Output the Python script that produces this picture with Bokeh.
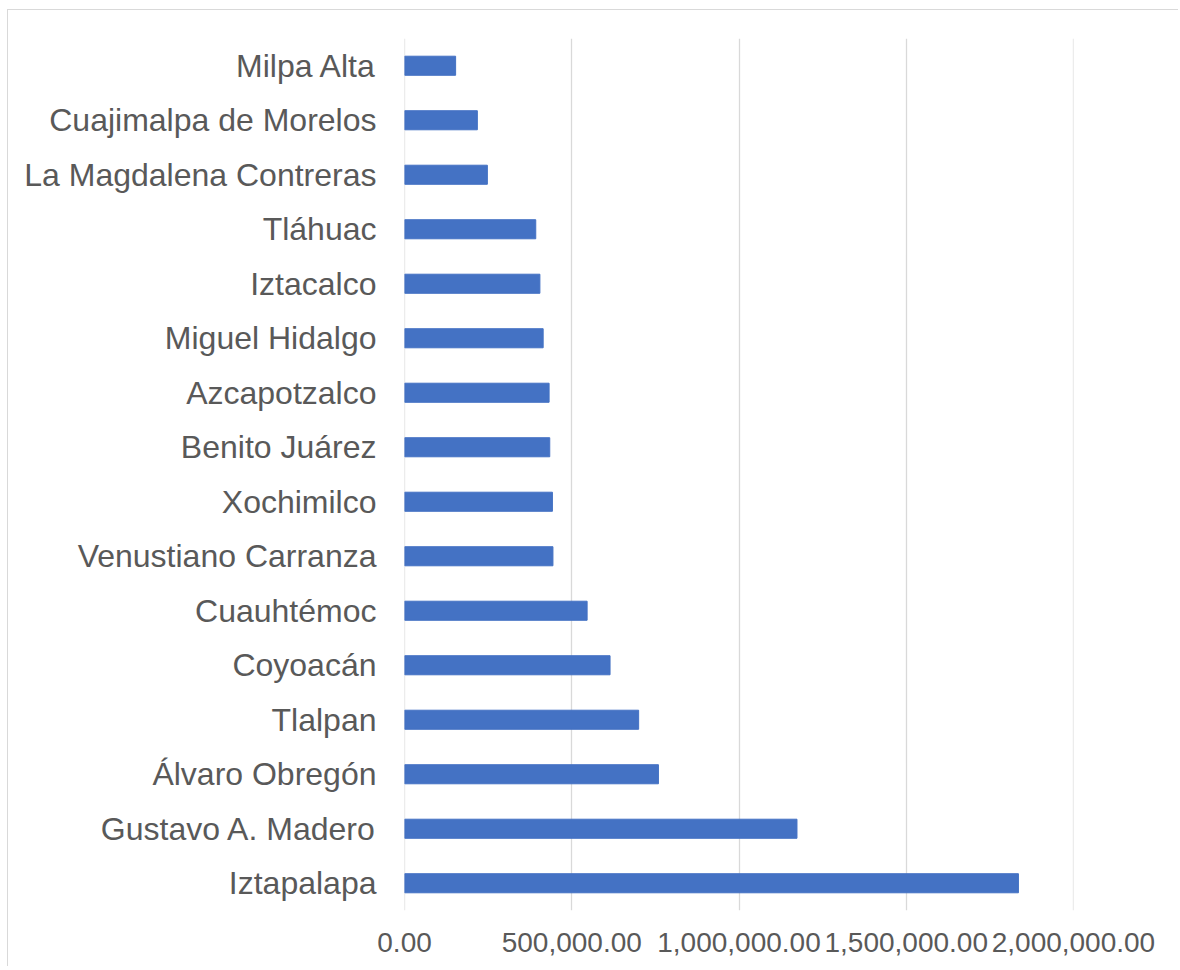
from bokeh.plotting import figure
from bokeh.models import FixedTicker, NumeralTickFormatter, Range1d, FactorRange, ColumnDataSource
from bokeh.embed import file_html
from bokeh.resources import INLINE

# Data (bottom to top)
alcaldias = [
    "Iztapalapa", "Gustavo A. Madero", "Álvaro Obregón", "Tlalpan", "Coyoacán",
    "Cuauhtémoc", "Venustiano Carranza", "Xochimilco", "Benito Juárez",
    "Azcapotzalco", "Miguel Hidalgo", "Iztacalco", "Tláhuac",
    "La Magdalena Contreras", "Cuajimalpa de Morelos", "Milpa Alta",
]
poblacion = [
    1835486, 1173351, 759137, 699928, 614447,
    545884, 443704, 442178, 434153,
    432205, 414470, 404695, 392313,
    247622, 217686, 152685,
]
x_ticks = [0, 500000, 1000000, 1500000, 2000000]

FONT = "Liberation Sans"
TXT = "#595959"
GRID = "#d9d9d9"

source = ColumnDataSource(dict(cat=alcaldias, val=poblacion))

p = figure(
    y_range=FactorRange(factors=alcaldias, range_padding=0),
    x_range=Range1d(-150, 2000150),
    frame_width=669, frame_height=872,
    min_border_left=396, min_border_right=105,
    min_border_top=28, min_border_bottom=56,
    output_backend="svg", toolbar_location=None,
)
p.styles = {
    "border-left": "1px solid #d9d9d9",
    "border-top": "1px solid #d9d9d9",
    "margin-left": "7px",
    "margin-top": "9px",
}

p.hbar(y="cat", right="val", left=0, height=0.35, color="#4472C4", source=source)

p.outline_line_color = None
p.background_fill_color = "white"
p.border_fill_color = "white"

p.ygrid.grid_line_color = None
p.xgrid.grid_line_color = GRID
p.xgrid.grid_line_width = 1.3
p.xgrid.ticker = FixedTicker(ticks=x_ticks)

p.xaxis.ticker = FixedTicker(ticks=x_ticks)
p.xaxis.formatter = NumeralTickFormatter(format="0,0.00")
p.xaxis.axis_line_color = None
p.xaxis.major_tick_line_color = None
p.xaxis.minor_tick_line_color = None
p.xaxis.major_tick_out = 0
p.xaxis.major_label_standoff = 22
p.xaxis.major_label_text_font = FONT
p.xaxis.major_label_text_font_size = "28px"
p.xaxis.major_label_text_color = TXT

p.yaxis.axis_line_color = None
p.yaxis.major_tick_line_color = None
p.yaxis.minor_tick_line_color = None
p.yaxis.major_tick_out = 0
p.yaxis.major_label_standoff = 28
p.yaxis.major_label_text_font = FONT
p.yaxis.major_label_text_font_size = "32px"
p.yaxis.major_label_text_color = TXT

open("out.html", "w").write(file_html(p, INLINE))
